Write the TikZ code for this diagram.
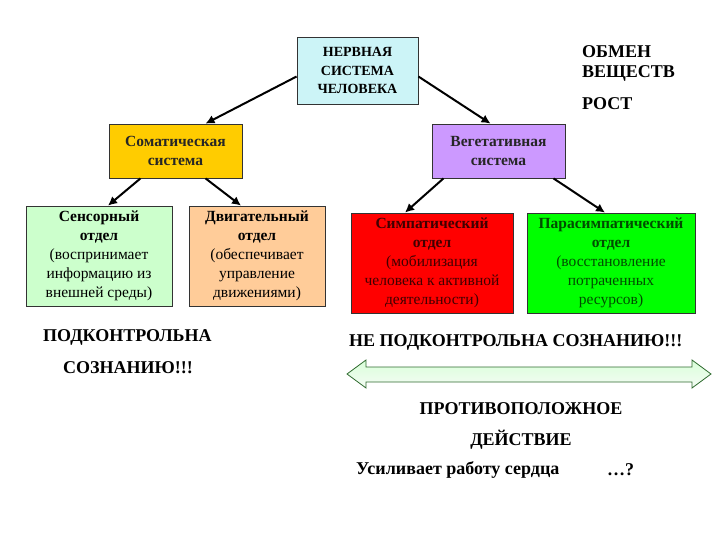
\documentclass[tikz,border=0pt]{standalone}
\usepackage{fontspec}
\setmainfont{Liberation Serif}
\usetikzlibrary{arrows.meta}
\begin{document}
\begin{tikzpicture}[x=1pt,y=-1pt,
  box/.style={draw=black!80,line width=0.8pt,inner sep=0pt,align=center,font=\fontsize{14}{18.5}\selectfont\bfseries},
  arr/.style={-{Latex[length=9pt,width=9pt]},line width=2pt,black},
  lbl/.style={inner sep=0pt,anchor=west,font=\fontsize{18}{20}\selectfont\bfseries}]
\useasboundingbox (0,0) rectangle (720,540);
\definecolor{cyanbox}{HTML}{CCF4F7}
\definecolor{goldbox}{HTML}{FFCC00}
\definecolor{lavbox}{HTML}{CC99FF}
\definecolor{mintbox}{HTML}{CCFFCC}
\definecolor{peachbox}{HTML}{FFCC99}
\definecolor{redbox}{HTML}{FF0000}
\definecolor{greenbox}{HTML}{00FF00}
\definecolor{arrline}{HTML}{2F6B2F}

\node[box,fill=cyanbox,minimum width=121pt,minimum height=67pt] (ns) at (357.5,70.5) {НЕРВНАЯ\\СИСТЕМА\\ЧЕЛОВЕКА};
\node[box,fill=goldbox,minimum width=133pt,minimum height=54pt,font=\fontsize{15.5}{19}\selectfont\bfseries,text=black!85] (som) at (175.5,151) {Соматическая\\система};
\node[box,fill=lavbox,minimum width=133pt,minimum height=54pt,font=\fontsize{15.5}{19}\selectfont\bfseries,text=black!85] (veg) at (498.5,151) {Вегетативная\\система};
\node[box,fill=mintbox,minimum width=146pt,minimum height=100pt,font=\fontsize{15.5}{19}\selectfont] (sen) at (99,256) {\textbf{Сенсорный}\\\textbf{отдел}\\(воспринимает\\информацию из\\внешней среды)};
\node[box,fill=peachbox,minimum width=136pt,minimum height=100pt,font=\fontsize{15.5}{19}\selectfont] (mot) at (257,256) {\textbf{Двигательный}\\\textbf{отдел}\\(обеспечивает\\управление\\движениями)};
\node[box,fill=redbox,minimum width=162pt,minimum height=100pt,font=\fontsize{15.5}{19}\selectfont,text=black!75!red] (sym) at (432,263) {\textbf{Симпатический}\\\textbf{отдел}\\(мобилизация\\человека к активной\\деятельности)};
\node[box,fill=greenbox,minimum width=168pt,minimum height=100pt,font=\fontsize{15.5}{19}\selectfont,text=black!70!green] (par) at (611,263) {\textbf{Парасимпатический}\\\textbf{отдел}\\(восстановление\\потраченных\\ресурсов)};

\draw[arr] (ns.west) ++(0,6) -- ([xshift=30pt]som.north);
\draw[arr] (ns.east) ++(0,6) -- ([xshift=-8pt]veg.north);
\draw[arr] ([xshift=-35pt]som.south) -- ([xshift=9pt]sen.north);
\draw[arr] ([xshift=30pt]som.south) -- ([xshift=-16pt]mot.north);
\draw[arr] ([xshift=-55pt]veg.south) -- ([xshift=-27pt]sym.north);
\draw[arr] ([xshift=55pt]veg.south) -- ([xshift=-6pt]par.north);

\node[lbl] (obm) at (582,52) {ОБМЕН};
\node[lbl] (vesh) at (582,73) {ВЕЩЕСТВ};
\node[lbl] (rost) at (582,104) {РОСТ};

\node[lbl] (pk1) at (43,337) {ПОДКОНТРОЛЬНА};
\node[lbl] (pk2) at (63,368) {СОЗНАНИЮ!!!};
\node[lbl] (npk) at (349,342) {НЕ ПОДКОНТРОЛЬНА СОЗНАНИЮ!!!};

\shade[top color=green!15,bottom color=green!30!white!85!black!10,draw=arrline,line width=0.8pt]
  (347,374) -- (366,360) -- (366,367) -- (692,367) -- (692,360) -- (711,374) -- (692,388) -- (692,382) -- (366,382) -- (366,388) -- cycle;
\coordinate (dl) at (347,374);
\coordinate (dr) at (711,374);

\node[lbl,anchor=center] (prot) at (521,409) {ПРОТИВОПОЛОЖНОЕ};
\node[lbl,anchor=center] (deis) at (521,440) {ДЕЙСТВИЕ};
\node[lbl] (usil) at (356,470) {Усиливает работу сердца};
\node[lbl] (q) at (607,470) {…?};
\end{tikzpicture}
\end{document}
